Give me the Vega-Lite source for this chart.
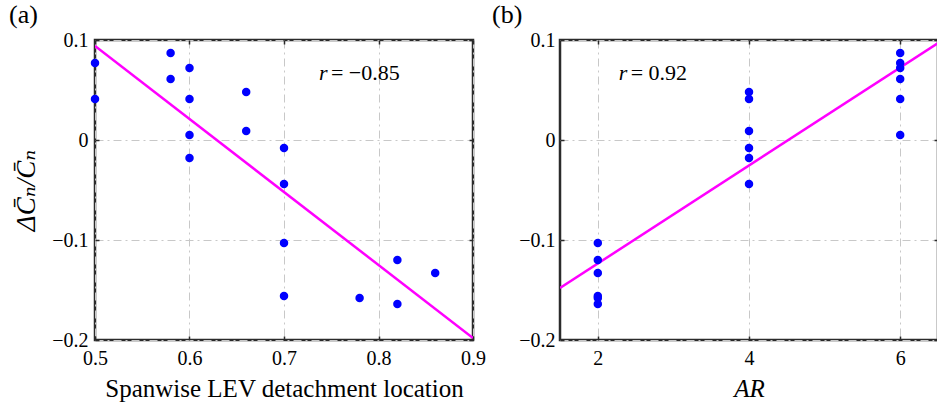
{
  "$schema": "https://vega.github.io/schema/vega-lite/v6.json",
  "padding": {"left": 7, "top": 0, "right": 0, "bottom": 0},
  "background": "white",
  "spacing": 87,
  "bounds": "flush",
  "config": {
    "font": "Liberation Serif, DejaVu Serif, serif",
    "view": {"stroke": "#2b2b2b", "strokeWidth": 2.5},
    "axis": {
      "labelFont": "Liberation Serif, DejaVu Serif, serif", "labelFontSize": 20, "labelColor": "black",
      "titleFont": "Liberation Serif, DejaVu Serif, serif", "titleFontSize": 25, "titleFontWeight": "normal", "titleColor": "black",
      "ticks": true, "tickSize": -4, "tickColor": "#2b2b2b", "tickWidth": 1.5,
      "domain": false, "labelFlush": false,
      "gridColor": "#c8c8c8", "gridDash": [8, 4, 2, 4], "gridWidth": 1,
      "labelPadding": 12, "titlePadding": 8, "format": "~g"
    },
    "title": {"font": "Liberation Serif, DejaVu Serif, serif", "fontSize": 26, "fontWeight": "normal", "anchor": "start", "frame": "group", "color": "black"}
  },
  "datasets": {
    "points": [
      {"loc": 0.5, "AR": 6, "dCn": 0.077},
      {"loc": 0.5, "AR": 6, "dCn": 0.041},
      {"loc": 0.58, "AR": 6, "dCn": 0.087},
      {"loc": 0.58, "AR": 6, "dCn": 0.061},
      {"loc": 0.6, "AR": 6, "dCn": 0.072},
      {"loc": 0.6, "AR": 6, "dCn": 0.005},
      {"loc": 0.66, "AR": 4, "dCn": 0.048},
      {"loc": 0.6, "AR": 4, "dCn": 0.041},
      {"loc": 0.66, "AR": 4, "dCn": 0.009},
      {"loc": 0.7, "AR": 4, "dCn": -0.008},
      {"loc": 0.6, "AR": 4, "dCn": -0.018},
      {"loc": 0.7, "AR": 4, "dCn": -0.044},
      {"loc": 0.7, "AR": 2, "dCn": -0.103},
      {"loc": 0.82, "AR": 2, "dCn": -0.12},
      {"loc": 0.86, "AR": 2, "dCn": -0.133},
      {"loc": 0.7, "AR": 2, "dCn": -0.156},
      {"loc": 0.78, "AR": 2, "dCn": -0.158},
      {"loc": 0.82, "AR": 2, "dCn": -0.164}
    ],
    "fitA": [{"loc": 0.5, "dCn": 0.094}, {"loc": 0.9, "dCn": -0.198}],
    "fitB": [{"AR": 1.5, "dCn": -0.148}, {"AR": 6.5, "dCn": 0.097}],
    "noteA": [{"loc": 0.737, "dCn": 0.06, "r": "r", "val": "= −0.85"}],
    "noteB": [{"AR": 2.276, "dCn": 0.06, "r": "r", "val": "= 0.92"}]
  },
  "hconcat": [
    {
      "width": 378, "height": 300,
      "title": {"text": "(a)", "dx": -86, "offset": 2},
      "resolve": {"axis": {"x": "independent", "y": "independent"}},
      "layer": [
        {"data": {"name": "fitA"}, "mark": {"type": "line", "color": "#ff00ff", "strokeWidth": 2.5, "clip": true},
         "encoding": {
           "x": {"field": "loc", "type": "quantitative", "scale": {"domain": [0.5, 0.9], "nice": false, "zero": false},
                 "axis": {"orient": "bottom", "grid": true, "values": [0.5, 0.6, 0.7, 0.8, 0.9], "title": "Spanwise LEV detachment location"}},
           "y": {"field": "dCn", "type": "quantitative", "scale": {"domain": [-0.2, 0.1], "nice": false, "zero": false},
                 "axis": {"orient": "left", "grid": true, "values": [-0.2, -0.1, 0, 0.1], "labelPadding": 11, "title": "ΔC̄ₙ/C̄ₙ", "titleFontStyle": "italic", "titleFontSize": 27, "titlePadding": 11}}
         }},
        {"data": {"name": "points"}, "mark": {"type": "circle", "color": "#0000ff", "size": 72, "opacity": 1},
         "encoding": {
           "x": {"field": "loc", "type": "quantitative", "axis": {"orient": "top", "grid": false, "labels": false, "title": null, "values": [0.5, 0.6, 0.7, 0.8, 0.9]}},
           "y": {"field": "dCn", "type": "quantitative", "axis": {"orient": "right", "grid": false, "labels": false, "title": null, "values": [-0.2, -0.1, 0, 0.1]}}
         }},
        {"data": {"name": "noteA"}, "mark": {"type": "text", "align": "left", "baseline": "alphabetic", "fontSize": 22, "fontStyle": "italic"},
         "encoding": {"x": {"field": "loc", "type": "quantitative", "axis": null}, "y": {"field": "dCn", "type": "quantitative", "axis": null}, "text": {"field": "r"}}},
        {"data": {"name": "noteA"}, "mark": {"type": "text", "align": "left", "baseline": "alphabetic", "fontSize": 22, "dx": 12},
         "encoding": {"x": {"field": "loc", "type": "quantitative", "axis": null}, "y": {"field": "dCn", "type": "quantitative", "axis": null}, "text": {"field": "val"}}}
      ]
    },
    {
      "width": 378, "height": 300,
      "title": {"text": "(b)", "dx": -68, "offset": 2},
      "resolve": {"axis": {"x": "independent", "y": "independent"}},
      "layer": [
        {"data": {"name": "fitB"}, "mark": {"type": "line", "color": "#ff00ff", "strokeWidth": 2.5, "clip": true},
         "encoding": {
           "x": {"field": "AR", "type": "quantitative", "scale": {"domain": [1.5, 6.5], "nice": false, "zero": false},
                 "axis": {"orient": "bottom", "grid": true, "values": [2, 4, 6], "title": "AR", "titleFontStyle": "italic"}},
           "y": {"field": "dCn", "type": "quantitative", "scale": {"domain": [-0.2, 0.1], "nice": false, "zero": false},
                 "axis": {"orient": "left", "grid": true, "values": [-0.2, -0.1, 0, 0.1], "title": null, "labelPadding": 9}}
         }},
        {"data": {"name": "points"}, "mark": {"type": "circle", "color": "#0000ff", "size": 72, "opacity": 1},
         "encoding": {
           "x": {"field": "AR", "type": "quantitative", "axis": {"orient": "top", "grid": false, "labels": false, "title": null, "values": [2, 4, 6]}},
           "y": {"field": "dCn", "type": "quantitative", "axis": {"orient": "right", "grid": false, "labels": false, "title": null, "values": [-0.2, -0.1, 0, 0.1]}}
         }},
        {"data": {"name": "noteB"}, "mark": {"type": "text", "align": "left", "baseline": "alphabetic", "fontSize": 22, "fontStyle": "italic"},
         "encoding": {"x": {"field": "AR", "type": "quantitative", "axis": null}, "y": {"field": "dCn", "type": "quantitative", "axis": null}, "text": {"field": "r"}}},
        {"data": {"name": "noteB"}, "mark": {"type": "text", "align": "left", "baseline": "alphabetic", "fontSize": 22, "dx": 12},
         "encoding": {"x": {"field": "AR", "type": "quantitative", "axis": null}, "y": {"field": "dCn", "type": "quantitative", "axis": null}, "text": {"field": "val"}}}
      ]
    }
  ]
}
